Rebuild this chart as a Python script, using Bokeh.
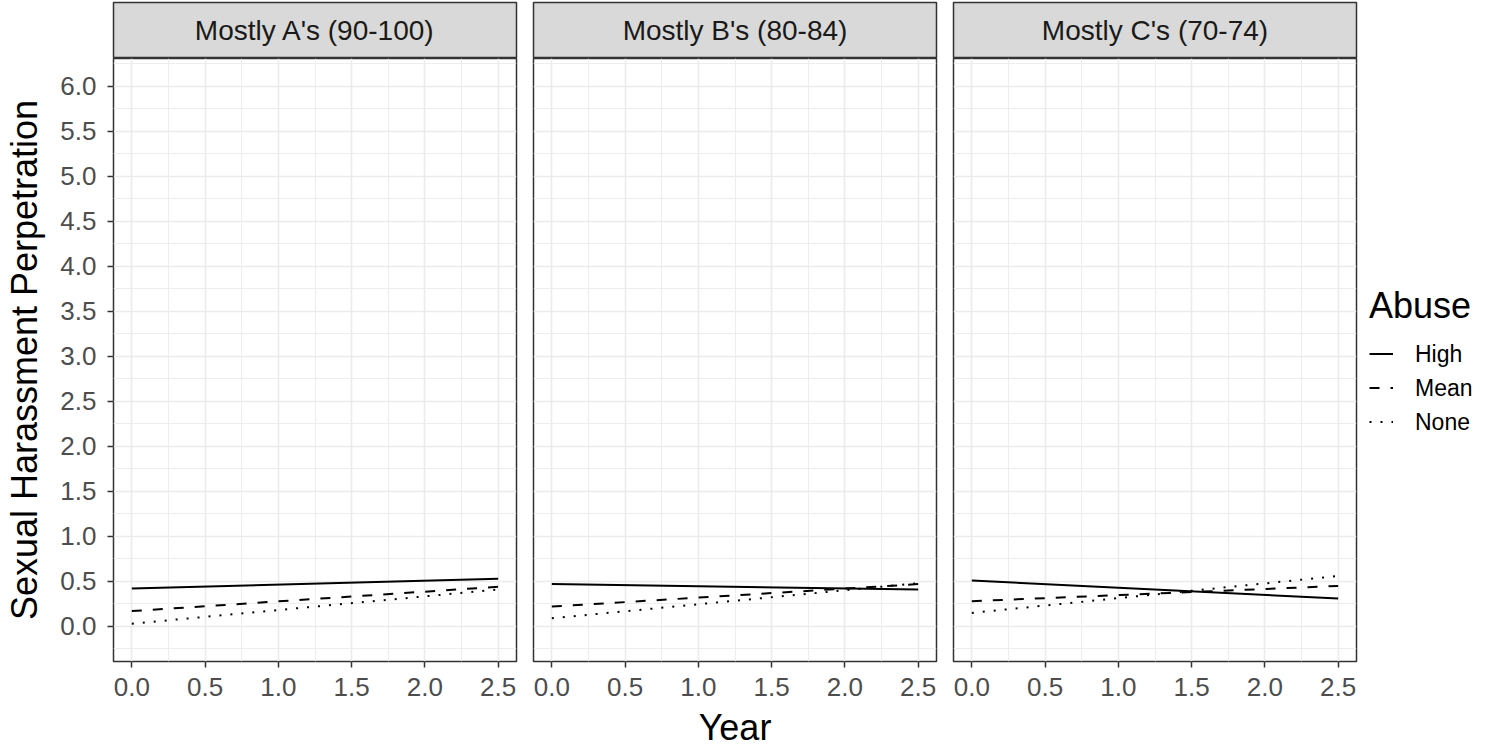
from bokeh.plotting import figure
from bokeh.models import Range1d, FixedTicker, PrintfTickFormatter, Label, Legend, LegendItem
from bokeh.layouts import row, column
from bokeh.embed import file_html
from bokeh.resources import INLINE

# ---- data ----
panels = ["Mostly A's (90-100)", "Mostly B's (80-84)", "Mostly C's (70-74)"]
year = [0.0, 2.5]
abuse_levels = ["High", "Mean", "None"]
high_vals = [[0.42, 0.53], [0.47, 0.41], [0.51, 0.31]]
mean_vals = [[0.17, 0.44], [0.22, 0.47], [0.28, 0.45]]
none_vals = [[0.03, 0.41], [0.09, 0.48], [0.15, 0.56]]
x_ticks = [0.0, 0.5, 1.0, 1.5, 2.0, 2.5]
x_minor = [0.25, 0.75, 1.25, 1.75, 2.25]
y_ticks = [0.0, 0.5, 1.0, 1.5, 2.0, 2.5, 3.0, 3.5, 4.0, 4.5, 5.0, 5.5, 6.0]
y_minor = [-0.25, 0.25, 0.75, 1.25, 1.75, 2.25, 2.75, 3.25, 3.75, 4.25, 4.75, 5.25, 5.75, 6.25]

FONT = "Liberation Sans"
FW, FH, SH = 403, 603, 56
LEFT1 = 113
GAP_R, GAP_L = 8, 9
BOTTOM = 82
Y_LO, Y_HI = -0.39, 6.31
dashes = {"High": "solid", "Mean": "10 11", "None": "2 9"}
series = {"High": high_vals, "Mean": mean_vals, "None": none_vals}

cols = []
legend_renderers = {}
for i, name in enumerate(panels):
    left = LEFT1 if i == 0 else GAP_L
    p = figure(frame_width=FW, frame_height=FH, output_backend="svg", toolbar_location=None,
               x_range=Range1d(-0.125, 2.625), y_range=Range1d(Y_LO, Y_HI),
               y_axis_location="left" if i == 0 else None,
               min_border_left=left, min_border_right=GAP_R, min_border_top=0, min_border_bottom=BOTTOM,
               background_fill_color="white", border_fill_color="white")
    p.outline_line_color = "#333333"
    p.outline_line_width = 1.5
    xt = FixedTicker(ticks=x_ticks, minor_ticks=x_minor)
    yt = FixedTicker(ticks=y_ticks, minor_ticks=y_minor)
    p.xgrid.ticker = xt
    p.ygrid.ticker = yt
    for g in (p.xgrid, p.ygrid):
        g.grid_line_color = "#EBEBEB"
        g.grid_line_width = 1.6
        g.minor_grid_line_color = "#EBEBEB"
        g.minor_grid_line_width = 0.9
    axes = [p.xaxis[0]]
    xa = p.xaxis[0]
    xa.ticker = xt
    xa.formatter = PrintfTickFormatter(format="%.1f")
    xa.major_label_standoff = 10
    if i == 1:
        xa.axis_label = "Year"
        xa.axis_label_standoff = 8
    if i == 0:
        ya = p.yaxis[0]
        ya.ticker = yt
        ya.formatter = PrintfTickFormatter(format="%.1f")
        ya.axis_label = "Sexual Harassment Perpetration"
        ya.axis_label_standoff = 12
        ya.major_label_standoff = 11
        axes.append(ya)
    for ax in axes:
        ax.axis_line_color = None
        ax.major_tick_line_color = "#333333"
        ax.major_tick_line_width = 1.5
        ax.major_tick_out = 6
        ax.major_tick_in = 0
        ax.minor_tick_line_color = None
        ax.major_label_text_font = FONT
        ax.major_label_text_font_size = "26px"
        ax.major_label_text_color = "#4D4D4D"
        ax.axis_label_text_font = FONT
        ax.axis_label_text_font_size = "36px"
        ax.axis_label_text_font_style = "normal"
        ax.axis_label_text_color = "black"
    for lvl in abuse_levels:
        r = p.line(year, series[lvl][i], line_color="black", line_width=2.0, line_dash=dashes[lvl])
        if i == 2:
            legend_renderers[lvl] = r
    if i == 2:
        leg = Legend(items=[LegendItem(label=lvl, renderers=[legend_renderers[lvl]]) for lvl in abuse_levels],
                     title="Abuse", location="center_left")
        leg.title_text_font = FONT
        leg.title_text_font_size = "36px"
        leg.title_text_font_style = "normal"
        leg.title_text_color = "black"
        leg.title_standoff = 14
        leg.label_text_font = FONT
        leg.label_text_font_size = "23px"
        leg.label_text_color = "black"
        leg.glyph_width = 24
        leg.glyph_height = 26
        leg.label_standoff = 22
        leg.spacing = 7
        leg.padding = 6
        leg.margin = 13
        leg.border_line_color = None
        leg.background_fill_alpha = 0
        p.add_layout(leg, "right")

    s = figure(frame_width=FW, frame_height=SH, output_backend="svg", toolbar_location=None,
               x_range=Range1d(0, 1), y_range=Range1d(0, 1),
               x_axis_location=None, y_axis_location=None,
               min_border_left=left, min_border_right=GAP_R, min_border_top=2, min_border_bottom=0,
               background_fill_color="#D9D9D9", border_fill_color="white")
    s.grid.visible = False
    s.outline_line_color = "#333333"
    s.outline_line_width = 1.5
    s.add_layout(Label(x=0.5, y=0.5, text=name, text_align="center", text_baseline="middle",
                       text_font=FONT, text_font_size="28px", text_color="#1A1A1A"))
    cols.append(column(s, p, spacing=0))

layout = row(*cols, spacing=0)
open("out.html", "w").write(file_html(layout, INLINE))
